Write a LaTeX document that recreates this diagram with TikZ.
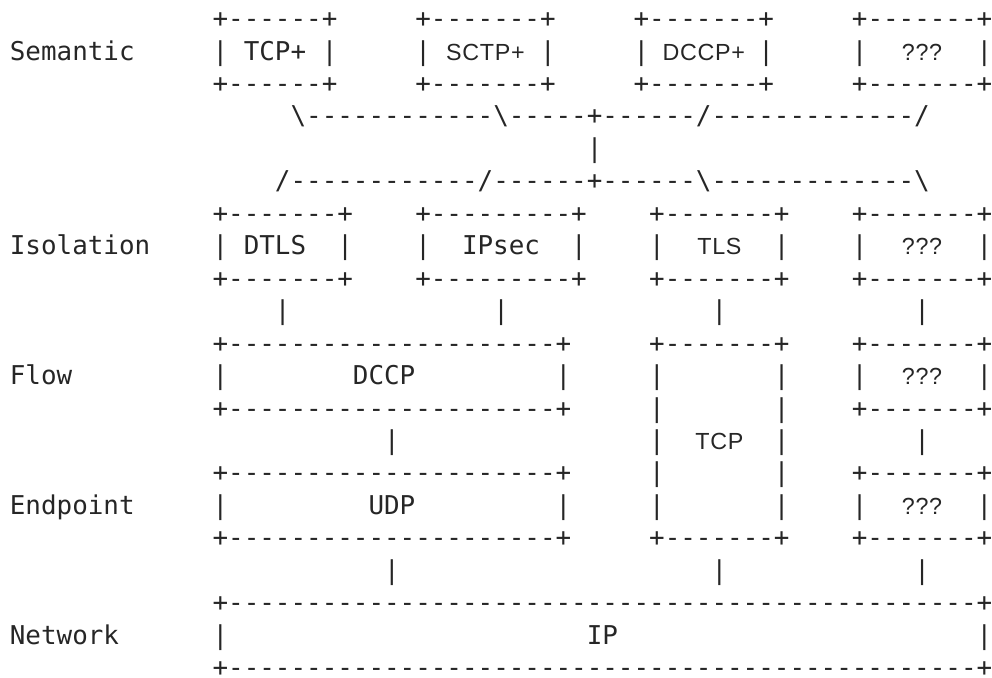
\documentclass[tikz,border=0pt]{standalone}
\usepackage{fontspec}
\setmonofont{DejaVu Sans Mono}
\setsansfont[Scale=0.9,LetterSpace=3]{Liberation Sans}

\definecolor{ink}{HTML}{262626}
% blank cells and proportional words inside the grid
\newcommand\bk[1]{\hspace*{#1\fontcharwd\font`\-}}
\newcommand\pw[1]{\setbox0\hbox{#1}\hbox to\wd0{\hss\sffamily #1\hss}}

\tikzset{
  ascii/.style={anchor=base west, inner sep=0pt, text=ink,
    font=\ttfamily\fontsize{12.95}{15}\selectfont}
}

\begin{document}
\begin{tikzpicture}[x=0.5pt,y=-0.5pt]
    \useasboundingbox (0,0) rectangle (992,677);
%
    \node[ascii] (semtop)   at (9.5,27.6)   {\bk{13}+------+\bk5+-------+\bk5+-------+\bk5+-------+};
    \node[ascii] (semmid)   at (9.5,60.05)  {Semantic\bk5| TCP+ |\bk5| \pw{SCTP+} |\bk5| \pw{DCCP+} |\bk5|\bk2\pw{???}\bk2|};
    \node[ascii] (sembot)   at (9.5,92.5)   {\bk{13}+------+\bk5+-------+\bk5+-------+\bk5+-------+};
%
    \node[ascii] (fanin)    at (9.5,124.95) {\bk{18}\textbackslash------------\textbackslash-----+------/-------------/};
    \node[ascii] (hub)      at (9.5,157.4)  {\bk{37}|};
    \node[ascii] (fanout)   at (9.5,189.85) {\bk{17}/------------/------+------\textbackslash-------------\textbackslash};
%
    \node[ascii] (isotop)   at (9.5,222.3)  {\bk{13}+-------+\bk4+---------+\bk4+-------+\bk4+-------+};
    \node[ascii] (isomid)   at (9.5,254.75) {Isolation\bk4| DTLS\bk2|\bk4|\bk2IPsec\bk2|\bk4|\bk2\pw{TLS}\bk2|\bk4|\bk2\pw{???}\bk2|};
    \node[ascii] (isobot)   at (9.5,287.2)  {\bk{13}+-------+\bk4+---------+\bk4+-------+\bk4+-------+};
    \node[ascii] (isolink)  at (9.5,319.65) {\bk{17}|\bk{13}|\bk{13}|\bk{12}|};
%
    \node[ascii] (flowtop)  at (9.5,352.1)  {\bk{13}+---------------------+\bk5+-------+\bk4+-------+};
    \node[ascii] (flowmid)  at (9.5,384.55) {Flow\bk9|\bk8DCCP\bk9|\bk5|\bk7|\bk4|\bk2\pw{???}\bk2|};
    \node[ascii] (flowbot)  at (9.5,417.0)  {\bk{13}+---------------------+\bk5|\bk7|\bk4+-------+};
    \node[ascii] (flowlink) at (9.5,449.45) {\bk{24}|\bk{16}|\bk2\pw{TCP}\bk2|\bk8|};
%
    \node[ascii] (endtop)   at (9.5,481.9)  {\bk{13}+---------------------+\bk5|\bk7|\bk4+-------+};
    \node[ascii] (endmid)   at (9.5,514.35) {Endpoint\bk5|\bk9UDP\bk9|\bk5|\bk7|\bk4|\bk2\pw{???}\bk2|};
    \node[ascii] (endbot)   at (9.5,546.8)  {\bk{13}+---------------------+\bk5+-------+\bk4+-------+};
    \node[ascii] (endlink)  at (9.5,579.25) {\bk{24}|\bk{20}|\bk{12}|};
%
    \node[ascii] (nettop)   at (9.5,611.7)  {\bk{13}+------------------------------------------------+};
    \node[ascii] (netmid)   at (9.5,644.15) {Network\bk6|\bk{23}IP\bk{23}|};
    \node[ascii] (netbot)   at (9.5,676.6)  {\bk{13}+------------------------------------------------+};
  \end{tikzpicture}
\end{document}
